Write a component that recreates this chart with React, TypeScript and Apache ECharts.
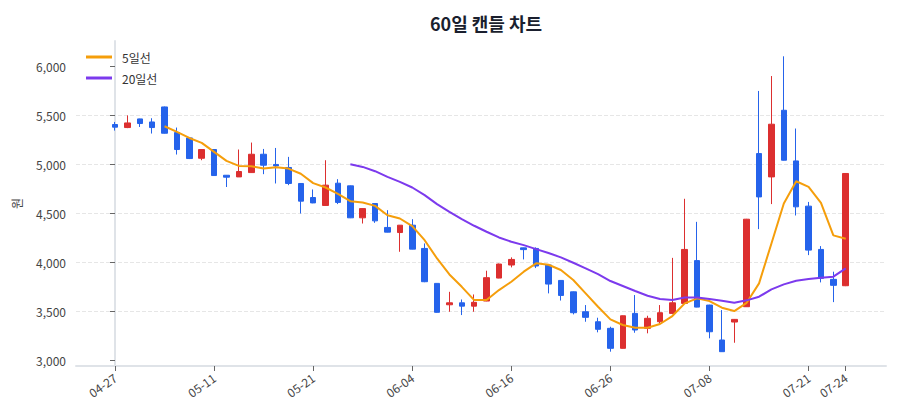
import React, { useEffect, useRef } from 'react'
import * as echarts from 'echarts'

const dates = [
    '04-27', '04-28', '04-29', '04-30', '05-02', '05-06', '05-07', '05-08',
    '05-11', '05-12', '05-13', '05-14', '05-15', '05-18', '05-19', '05-20',
    '05-21', '05-22', '05-25', '05-26', '05-27', '05-28', '05-29', '06-01',
    '06-04', '06-05', '06-08', '06-09', '06-10', '06-11', '06-12', '06-15',
    '06-16', '06-17', '06-18', '06-19', '06-22', '06-23', '06-24', '06-25',
    '06-26', '06-29', '06-30', '07-01', '07-02', '07-03', '07-06', '07-07',
    '07-08', '07-09', '07-10', '07-13', '07-14', '07-15', '07-16', '07-17',
    '07-21', '07-22', '07-23', '07-24',
]

const opens = [
    5407, 5376, 5464, 5433, 5586, 5325, 5270, 5063, 5152, 4890,
    4873, 4917, 5104, 5000, 4969, 4806, 4663, 4582, 4809, 4782,
    4456, 4602, 4358, 4306, 4381, 4144, 3788, 3570, 3590, 3556,
    3608, 3842, 3975, 4150, 4144, 3975, 3818, 3702, 3499, 3397,
    3330, 3126, 3482, 3330, 3397, 3482, 3584, 4020, 3567, 3211,
    3394, 3550, 5111, 4873, 5552, 5036, 4575, 4134, 3829, 3764,
]
const closes = [
    5380, 5423, 5417, 5376, 5318, 5152, 5060, 5152, 4887, 4870,
    4928, 5104, 4992, 4985, 4806, 4626, 4608, 4789, 4613, 4456,
    4550, 4425, 4310, 4381, 4137, 3805, 3493, 3590, 3556, 3595,
    3846, 3985, 4032, 4132, 3965, 3781, 3665, 3489, 3442, 3320,
    3126, 3458, 3313, 3432, 3489, 3590, 4134, 3546, 3295, 3092,
    3421, 4442, 4669, 5410, 5043, 4568, 4127, 3839, 3768, 4908,
]
const lows = [
    5345, 5370, 5382, 5315, 5315, 5101, 5055, 5043, 4885, 4770,
    4873, 4915, 4901, 4806, 4789, 4500, 4605, 4580, 4596, 4453,
    4398, 4405, 4308, 4110, 4135, 3800, 3490, 3499, 3465, 3499,
    3606, 3840, 3951, 4032, 3944, 3686, 3613, 3472, 3397, 3289,
    3092, 3124, 3285, 3279, 3380, 3480, 3580, 3544, 3228, 3090,
    3183, 3548, 4341, 4596, 5040, 4480, 4076, 3798, 3597, 3760,
]
const highs = [
    5433, 5500, 5466, 5471, 5590, 5376, 5275, 5155, 5155, 4892,
    5152, 5223, 5158, 5168, 5077, 4808, 4745, 5043, 4850, 4785,
    4552, 4604, 4534, 4383, 4442, 4195, 3790, 3702, 3624, 3675,
    3917, 3990, 4053, 4152, 4155, 3977, 3820, 3705, 3567, 3438,
    3346, 3460, 3669, 3458, 3567, 4048, 4650, 4415, 3570, 3516,
    3425, 4445, 5749, 5901, 6102, 5366, 4618, 4168, 3907, 4910,
]

// 5-day line, starts at the 5th candle
const ma5 = [
    null, null, null, null,
    5389, 5331, 5270, 5220, 5128, 5036, 4985, 4982, 4958, 4972,
    4958, 4905, 4810, 4765, 4700, 4626, 4612, 4578, 4483, 4449,
    4371, 4228, 4042, 3879, 3753, 3618, 3618, 3720, 3805, 3907,
    3992, 3978, 3924, 3822, 3686, 3550, 3421, 3364, 3336, 3336,
    3374, 3455, 3584, 3635, 3608, 3540, 3506, 3590, 3788, 4195,
    4602, 4829, 4771, 4608, 4277, 4243,
]
// 20-day line, starts at the 20th candle
const ma20 = [
    null, null, null, null, null, null, null, null, null, null,
    null, null, null, null, null, null, null, null, null,
    5002, 4975, 4931, 4873, 4822, 4765, 4687, 4596, 4517, 4443,
    4375, 4314, 4256, 4212, 4178, 4137, 4097, 4053, 3998, 3941,
    3883, 3812, 3761, 3710, 3662, 3628, 3618, 3645, 3645, 3628,
    3611, 3590, 3615, 3652, 3727, 3778, 3815, 3832, 3846, 3856,
    3941,
]

const xTicks = [0, 8, 16, 24, 32, 40, 48, 56, 59]
const yTicks = [3000, 3500, 4000, 4500, 5000, 5500, 6000]

const UP = '#dc2f2f'
const DOWN = '#2563eb'
const FONT = '"Noto Sans CJK KR", "Noto Sans", sans-serif'

const App: React.FC = () => {
    const chartRef = useRef<HTMLDivElement | null>(null)

    useEffect(() => {
        if (!chartRef.current) return
        const chart = echarts.init(chartRef.current, null, { renderer: 'svg' })

        const candles = dates.map((_, i) => [i, opens[i], closes[i], lows[i], highs[i]])
        const toLine = (arr: (number | null)[]) =>
            arr.map((v, i) => (v == null ? null : [i, v])).filter((d) => d !== null)

        chart.setOption({
            animation: false,
            textStyle: { fontFamily: FONT },
            title: {
                text: '60일 캔들 차트',
                left: 481,
                top: 9,
                textAlign: 'center',
                textStyle: { fontSize: 18, fontWeight: 'bold', color: '#1a1f2e', fontFamily: FONT },
            },
            legend: {
                data: ['5일선', '20일선'],
                orient: 'vertical',
                left: 81,
                top: 46,
                icon: 'rect',
                itemWidth: 26,
                itemHeight: 3,
                itemGap: 9,
                textStyle: { fontSize: 12, color: '#333', fontFamily: FONT, padding: [0, 0, 0, 5] },
            },
            grid: { left: 76, right: 14, top: 41, bottom: 54 },
            xAxis: {
                type: 'value',
                min: -3.15,
                max: 62.25,
                axisLine: { show: true, lineStyle: { color: '#dfe3e8', width: 2 } },
                axisTick: {
                    show: true,
                    customValues: xTicks,
                    length: 5,
                    lineStyle: { color: '#666' },
                },
                axisLabel: {
                    customValues: xTicks,
                    rotate: 35,
                    margin: 10,
                    fontSize: 12,
                    color: '#444',
                    formatter: (v: number) => dates[Math.round(v)] ?? '',
                },
                splitLine: { show: false },
            },
            yAxis: {
                type: 'value',
                min: 2946,
                max: 6258,
                name: '원',
                nameLocation: 'middle',
                nameRotate: 90,
                nameGap: 54,
                nameTextStyle: { fontSize: 12, color: '#444' },
                axisLine: { show: true, lineStyle: { color: '#dfe3e8', width: 2 } },
                axisTick: {
                    show: true,
                    customValues: yTicks,
                    length: 5,
                    lineStyle: { color: '#666' },
                },
                axisLabel: {
                    customValues: yTicks,
                    margin: 10,
                    fontSize: 12,
                    color: '#444',
                    formatter: (v: number) => v.toLocaleString('en-US'),
                },
                splitLine: {
                    show: true,
                    showMinLine: false,
                    showMaxLine: false,
                    lineStyle: { color: '#e6e6e6', type: 'dashed' },
                },
            },
            series: [
                {
                    name: '캔들',
                    type: 'candlestick',
                    data: candles,
                    encode: { x: 0, y: [1, 2, 3, 4] },
                    barWidth: 6,
                    itemStyle: {
                        color: UP,
                        color0: DOWN,
                        borderColor: UP,
                        borderColor0: DOWN,
                        borderWidth: 1,
                    },
                },
                {
                    name: '5일선',
                    type: 'line',
                    data: toLine(ma5),
                    symbol: 'none',
                    color: '#f59e0b',
                    lineStyle: { width: 2, color: '#f59e0b' },
                    z: 5,
                },
                {
                    name: '20일선',
                    type: 'line',
                    data: toLine(ma20),
                    symbol: 'none',
                    color: '#7c3aed',
                    lineStyle: { width: 2, color: '#7c3aed' },
                    z: 5,
                },
            ],
        })

        return () => {
            chart.dispose()
        }
    }, [])

    return (
        <div
            ref={chartRef}
            style={{ position: 'absolute', left: 0, top: 0, width: '900px', height: '420px' }}
        />
    )
}

export default App
